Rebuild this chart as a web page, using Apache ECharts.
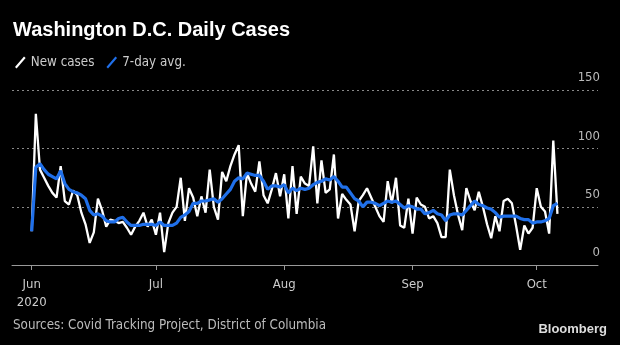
<!DOCTYPE html>
<html>
<head>
<meta charset="utf-8">
<script src="https://cdn.jsdelivr.net/npm/echarts@6/dist/echarts.min.js"></script>
<style>
  html, body { margin: 0; padding: 0; background: #000; }
  #chart { width: 620px; height: 345px; }
</style>
</head>
<body>
<div id="chart"></div>
<script>
// Daily reported cases, Washington D.C., one value per day starting 1 June 2020
const newCases = [
  29, 130, 82, 75, 68, 62, 58, 85, 55, 52,
  64, 60, 45, 35, 19, 28, 57, 47, 33, 39,
  38, 36, 37, 32, 26, 33, 38, 45, 33, 39,
  26, 45, 11, 36, 45, 50, 75, 38, 66, 58,
  42, 59, 45, 82, 50, 39, 80, 72, 85, 95,
  103, 42, 79, 70, 63, 89, 60, 53, 65, 79,
  59, 78, 40, 85, 44, 76, 70, 68, 102, 53,
  90, 62, 65, 95, 40, 61, 56, 52, 29, 55,
  60, 66, 58, 50, 42, 37, 72, 53, 75, 34,
  32, 57, 27, 58, 52, 50, 40, 42, 36, 24,
  24, 82, 60, 43, 30, 66, 55, 47, 63, 50,
  35, 23, 42, 29, 55, 57, 53, 34, 13, 34,
  27, 32, 66, 50, 46, 27, 107, 44
];
// 7-day average for the same days
const sevenDayAvg = [
  29, 84, 87, 82, 78, 76, 74, 81, 70, 65,
  63, 62, 60, 57, 47, 43, 44, 42, 38, 37,
  37, 40, 41, 37, 34, 34, 34, 35, 35, 35,
  34, 37, 34, 34, 34, 36, 41, 43, 46, 53,
  53, 55, 55, 56, 57, 54, 57, 61, 65, 72,
  75, 74, 79, 78, 77, 77, 72, 65, 68, 68,
  67, 69, 62, 66, 64, 66, 65, 66, 69, 71,
  72, 74, 73, 76, 72, 67, 67, 62, 57, 55,
  50, 54, 54, 53, 51, 53, 55, 54, 55, 52,
  49, 51, 50, 48, 48, 44, 45, 47, 44, 43,
  38, 43, 44, 44, 43, 47, 51, 55, 52, 51,
  49, 48, 45, 41, 42, 42, 42, 42, 40, 39,
  39, 36, 37, 37, 38, 40, 51, 53
];
// Month starts, counted in days from 1 June
const monthTickDays = [0, 30, 61, 92, 122];
const monthLabels = ['Jun\n2020', 'Jul', 'Aug', 'Sep', 'Oct'];

const labelFor = {};
monthTickDays.forEach((d, i) => { labelFor[d] = monthLabels[i]; });

const newSeries = newCases.map((v, i) => [i, v]);
const avgSeries = sevenDayAvg.map((v, i) => [i, v]);

const FONT = '"DejaVu Sans Condensed", "DejaVu Sans", sans-serif';
const BLUE = '#2070ea';

const chart = echarts.init(document.getElementById('chart'), null, { renderer: 'canvas' });
chart.setOption({
  backgroundColor: '#000',
  animation: false,
  title: [
    {
      text: 'Washington D.C. Daily Cases',
      left: 13, top: 20, padding: 0,
      textStyle: { color: '#fff', fontSize: 20, fontWeight: 'bold', fontFamily: '"Liberation Sans", Arial, sans-serif' }
    },
    {
      text: 'Sources: Covid Tracking Project, District of Columbia',
      left: 13, top: 319, padding: 0,
      textStyle: { color: '#bbb', fontSize: 13.3, fontWeight: 'normal', fontFamily: FONT }
    },
    {
      text: 'Bloomberg',
      right: 13, top: 323, padding: 0,
      textStyle: { color: '#ddd', fontSize: 13, fontWeight: 'bold', fontFamily: '"Liberation Sans", Arial, sans-serif' }
    }
  ],
  legend: {
    left: 10, top: 51,
    itemWidth: 11, itemHeight: 12, itemGap: 12,
    textStyle: { color: '#ccc', fontSize: 13.3, fontFamily: FONT },
    data: [
      { name: 'New cases', icon: 'path://M0,10 L8.5,0 L10,1.3 L1.5,11.3 Z', itemStyle: { color: '#fff' } },
      { name: '7-day avg.', icon: 'path://M0,10 L8.5,0 L10,1.3 L1.5,11.3 Z', itemStyle: { color: BLUE } }
    ]
  },
  grid: { left: 12, right: 22, top: 90.5, bottom: 80, containLabel: false },
  xAxis: {
    type: 'value',
    min: -4.76,
    max: 136.8,
    axisLine: { show: true, lineStyle: { color: '#999', width: 1 } },
    axisTick: { show: true, length: 5, customValues: monthTickDays, lineStyle: { color: '#999' } },
    axisLabel: {
      customValues: monthTickDays,
      color: '#ccc', fontSize: 13, fontFamily: FONT, margin: 11, lineHeight: 18,
      formatter: v => labelFor[v] || ''
    },
    splitLine: { show: false }
  },
  yAxis: {
    type: 'value',
    position: 'right',
    min: 0, max: 150, interval: 50,
    axisLine: { show: false },
    axisTick: { show: false },
    axisLabel: {
      inside: true, margin: -2, color: '#bbb', fontSize: 13, fontFamily: FONT,
      verticalAlign: 'bottom', padding: [0, 0, 6, 0]
    },
    splitLine: { show: true, lineStyle: { color: '#888', type: [2, 3], width: 1 } }
  },
  series: [
    {
      name: 'New cases', type: 'line', data: newSeries,
      showSymbol: false, symbol: 'none',
      lineStyle: { color: '#fff', width: 2.3 }, itemStyle: { color: '#fff' },
      z: 2
    },
    {
      name: '7-day avg.', type: 'line', data: avgSeries,
      showSymbol: false, symbol: 'none',
      lineStyle: { color: BLUE, width: 3.2 }, itemStyle: { color: BLUE },
      z: 3
    }
  ]
});
</script>
</body>
</html>
